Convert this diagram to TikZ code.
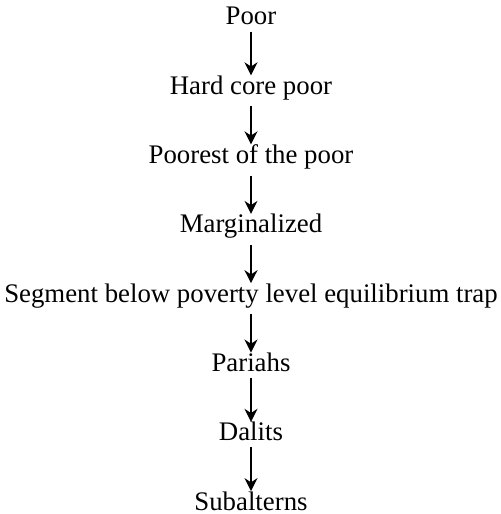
\documentclass[tikz,border=0pt]{standalone}
\usepackage{fontspec}
\setmainfont{Liberation Serif}
\usetikzlibrary{arrows.meta}

\begin{document}
\begin{tikzpicture}[baseline=(current  bounding  box.center),
  every node/.style={anchor=base,inner sep=0pt,
    font=\fontsize{13.4pt}{16pt}\selectfont},
  >={Stealth[length=6.5pt,width=6.5pt]}]
\useasboundingbox (-125.5pt,12.5pt) rectangle (124.5pt,-244.5pt);
\node (Poor) at (0,0)  {Poor};
\node (Hardcore) at (0,-1.2178)  {Hard core poor};
\node (Poorest) at (0,-2.4356)  {Poorest of the poor};
\node (Marginal) at (0,-3.6534)  {Marginalized};
\node (Segment) at (0,-4.8712)  {Segment below poverty level equilibrium trap};
\node (Pariahs) at (0,-6.089)  {Pariahs};
\node (Dalits) at (0,-7.3068)  {Dalits};
\node (Subalt) at (0,-8.5246)  {Subalterns};

\path[->,line width=0.65pt,shorten <=3pt] (Poor) edge (Hardcore);
\path[->,line width=0.65pt,shorten <=3pt] (Hardcore) edge (Poorest);
\path[->,line width=0.65pt,shorten <=3pt] (Poorest) edge (Marginal);
\path[->,line width=0.65pt,shorten <=3pt] (Marginal) edge (Segment);
\path[->,line width=0.65pt,shorten <=3pt] (Segment) edge (Pariahs);
\path[->,line width=0.65pt,shorten <=3pt] (Pariahs) edge (Dalits);
\path[->,line width=0.65pt,shorten <=3pt] (Dalits) edge (Subalt);
\end{tikzpicture}
\end{document}
